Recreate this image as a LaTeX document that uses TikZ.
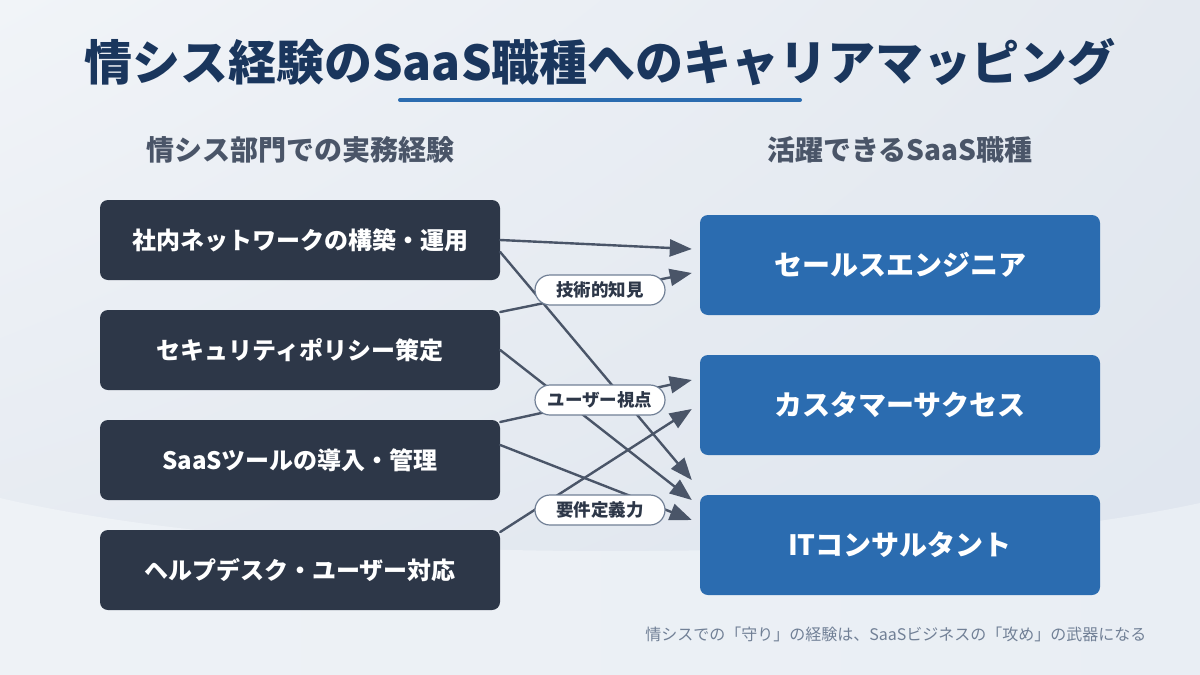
\documentclass[tikz,border=0pt]{standalone}
\usepackage{fontspec}
\setmainfont{Noto Sans CJK JP}
\usetikzlibrary{arrows.meta,shadings}
\definecolor{navy}{HTML}{1A365D}
\definecolor{slate}{HTML}{2D3748}
\definecolor{jobblue}{HTML}{2B6CB0}
\definecolor{wiregray}{HTML}{4A5568}
\definecolor{taggray}{HTML}{718096}
\definecolor{bgA}{HTML}{F1F4F8}
\definecolor{bgB}{HTML}{E4E9F0}
\definecolor{bgC}{HTML}{DEE5EE}
\definecolor{bgD}{HTML}{EEF2F6}
\definecolor{bgE}{HTML}{E9EEF4}
\begin{document}
\begin{tikzpicture}[x=1pt,y=-1pt,line join=round,line cap=round,>={Triangle[length=22pt,width=17pt]},
  exp/.style={fill=slate,text=white,rounded corners=8pt,minimum width=400pt,minimum height=80pt,font=\fontsize{24}{27}\selectfont\bfseries},
  job/.style={fill=jobblue,text=white,rounded corners=8pt,minimum width=400pt,minimum height=100pt,font=\fontsize{28}{31}\selectfont\bfseries},
  tag/.style={draw=taggray,line width=1.2pt,fill=white,rounded corners=15pt,minimum width=130pt,minimum height=30pt,inner sep=0pt,text=slate,font=\fontsize{17.5}{20}\selectfont\bfseries},
  head/.style={text=wiregray,font=\fontsize{28}{31}\selectfont\bfseries},
  wire/.style={draw=wiregray,line width=2.4pt}]
\useasboundingbox (0,0) rectangle (1200,675);
\shade[upper left=bgA,upper right=bgB,lower left=bgB,lower right=bgC] (0,0) rectangle (1200,675);
\shade[left color=bgD,right color=bgE] (0,498) .. controls (300,568) and (900,568) .. (1200,503) -- (1200,675) -- (0,675) -- cycle;
\node[text=navy,font=\fontsize{48}{52}\selectfont\bfseries] (T) at (600,62) {情シス経験のSaaS職種へのキャリアマッピング};
\draw[jobblue,line width=4pt] (400,100) -- (800,100);
\node[head] (H1) at (300,150) {情シス部門での実務経験};
\node[head] (H2) at (900,150) {活躍できるSaaS職種};
\foreach \t/\y/\s in {L1/240/社内ネットワークの構築・運用,L2/350/セキュリティポリシー策定,L3/460/SaaSツールの導入・管理,L4/570/ヘルプデスク・ユーザー対応}
\node[exp] (\t) at (300,\y) {\s};
\foreach \t/\y/\s in {R1/265/セールスエンジニア,R2/405/カスタマーサクセス,R3/545/ITコンサルタント}
\node[job] (\t) at (900,\y) {\s};
\foreach \a/\p/\b/\q in {L1/0/R1/16,L1/-12/R3/65,L2/38/R1/-8,L2/0/R3/45,L3/38/R2/25,L3/15/R3/25,L4/38/R2/-4}
\draw[->,wire] ([yshift=\p pt]\a.east) -- ([xshift=-8pt,yshift=\q pt]\b.west);
\foreach \t/\y/\s in {K1/290/技術的知見,K2/400/ユーザー視点,K3/510/要件定義力}
\node[tag] (\t) at (600,\y) {\s};
\node[anchor=east,text=taggray,font=\fontsize{16}{18}\selectfont] (F) at (1150,634) {情シスでの「守り」の経験は、SaaSビジネスの「攻め」の武器になる};
\end{tikzpicture}
\end{document}
